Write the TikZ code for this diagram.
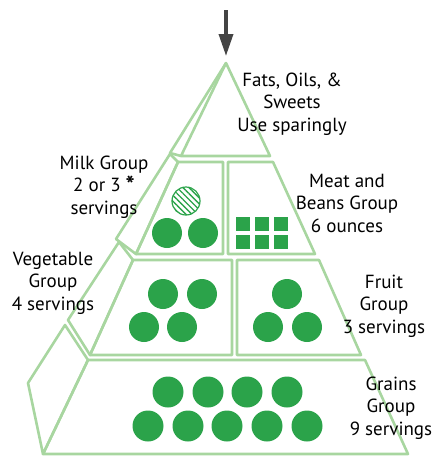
\documentclass[tikz,border=0pt]{standalone}
\usepackage{fontspec}
\setmainfont{PT Sans}
\usetikzlibrary{arrows.meta,patterns.meta}
\definecolor{pyr}{RGB}{168,214,160}
\definecolor{dot}{RGB}{43,163,74}
\definecolor{arr}{RGB}{68,68,68}
\begin{document}
\begin{tikzpicture}[x=1pt,y=-1pt,
  face/.style={draw=pyr, line width=2.6pt, line join=round},
  dotc/.style={circle, fill=dot, minimum size=30pt, inner sep=0pt},
  sqr/.style={fill=dot, minimum size=14pt, inner sep=0pt},
  lbl/.style={align=center, font=\fontsize{19}{22.5}\selectfont, text=black, inner sep=0pt}]
\useasboundingbox (0,0) rectangle (436,456);
% pyramid faces
\draw[face] (226,63) -- (270,156) -- (181,156) -- cycle;
\draw[face] (226,63) -- (170,153) -- (181,156);
\draw[face] (170,154) -- (178,162) -- (136,254) -- (116,239) -- cycle;
\draw[face] (178,162) -- (223,162) -- (223,254) -- (136,254) -- cycle;
\draw[face] (228,162) -- (273,162) -- (315,254) -- (228,254) -- cycle;
\draw[face] (119,242) -- (133,260) -- (90,355) -- (68,320) -- cycle;
\draw[face] (133,260) -- (232,260) -- (232,355) -- (90,355) -- cycle;
\draw[face] (237,260) -- (319,260) -- (361,355) -- (237,355) -- cycle;
\draw[face] (65,325) -- (88,360) -- (43,454) -- (28,383) -- cycle;
\draw[face] (88,360) -- (365,360) -- (408,454) -- (43,454) -- cycle;
% arrow
\coordinate (arrtop) at (226,10);
\coordinate (apex) at (226,56);
\draw[arr, line width=3.5pt, -{Triangle[length=22pt,width=14pt]}] (arrtop) -- (apex);
% milk
\node[circle, minimum size=28pt, inner sep=0pt, draw=dot, line width=1.2pt,
  pattern={Lines[angle=-45,distance=4.2pt,line width=1.3pt]}, pattern color=dot] (mk0) at (186,201) {};
\node[dotc] (mk1) at (167,233) {};
\node[dotc] (mk2) at (203,233) {};
% meat
\node[sqr] (mt1) at (243,224) {};
\node[sqr] (mt2) at (262,224) {};
\node[sqr] (mt3) at (281,224) {};
\node[sqr] (mt4) at (243,242) {};
\node[sqr] (mt5) at (262,242) {};
\node[sqr] (mt6) at (281,242) {};
% vegetable
\node[dotc] (vg1) at (163,294) {};
\node[dotc] (vg2) at (202,294) {};
\node[dotc] (vg3) at (144,327) {};
\node[dotc] (vg4) at (182,327) {};
% fruit
\node[dotc] (fr1) at (287,294) {};
\node[dotc] (fr2) at (268,327) {};
\node[dotc] (fr3) at (307,327) {};
% grains
\node[dotc, minimum size=31pt] (gr1) at (168,392) {};
\node[dotc, minimum size=31pt] (gr2) at (208,392) {};
\node[dotc, minimum size=31pt] (gr3) at (247,392) {};
\node[dotc, minimum size=31pt] (gr4) at (287,392) {};
\node[dotc, minimum size=31pt] (gr5) at (148,426) {};
\node[dotc, minimum size=31pt] (gr6) at (188,426) {};
\node[dotc, minimum size=31pt] (gr7) at (227,426) {};
\node[dotc, minimum size=31pt] (gr8) at (267,426) {};
\node[dotc, minimum size=31pt] (gr9) at (307,426) {};
% labels
\node[lbl] (fats) at (292,104) {Fats, Oils, \&\\Sweets\\Use sparingly};
\node[lbl] (milk) at (104,187) {Milk Group\\2 or 3 {\bfseries\fontsize{24}{22.5}\selectfont\raisebox{-2pt}{*}}\\servings};
\node[lbl] (meat) at (347,203) {Meat and\\Beans Group\\6 ounces};
\node[lbl] (veg) at (53,283) {Vegetable\\Group\\4 servings};
\node[lbl] (fruit) at (384,306) {Fruit\\Group\\3 servings};
\node[lbl] (grain) at (391,408) {Grains\\Group\\9 servings};
\end{tikzpicture}
\end{document}
